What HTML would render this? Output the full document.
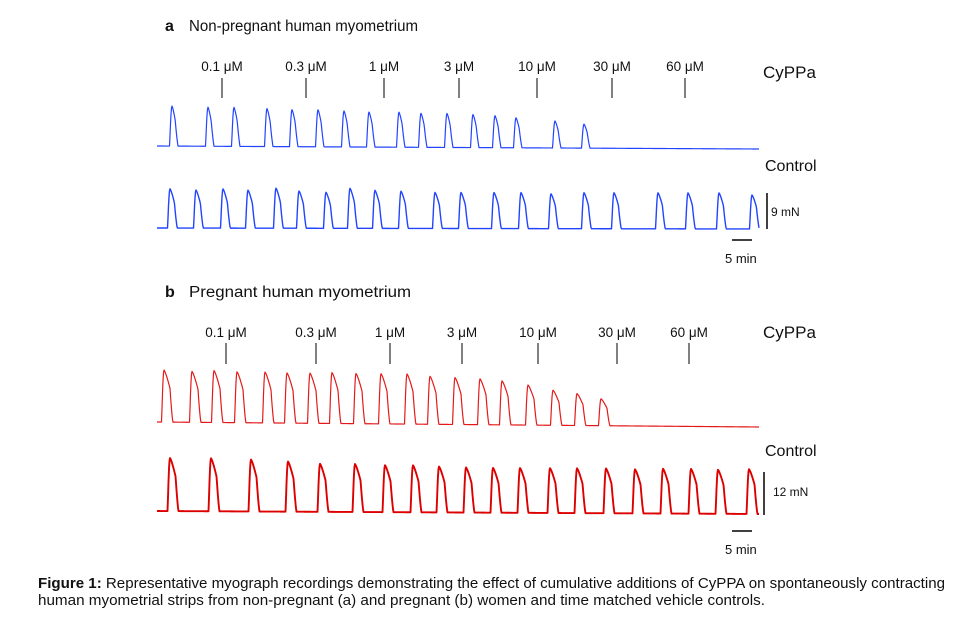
<!DOCTYPE html>
<html><head><meta charset="utf-8"><style>
body{margin:0;background:#fff;width:959px;height:614px;overflow:hidden;font-family:"Liberation Sans",Arial,sans-serif}
svg text{font-family:"Liberation Sans",Arial,sans-serif;fill:#111}
</style></head><body>
<svg id="fig" width="959" height="614" viewBox="0 0 959 614" xmlns="http://www.w3.org/2000/svg">
<g><text x="165" y="31" font-size="16" font-weight="bold">a</text><text x="189" y="31" font-size="15.5" textLength="229" lengthAdjust="spacingAndGlyphs">Non-pregnant human myometrium</text></g>
<g><text x="165" y="297" font-size="16" font-weight="bold">b</text><text x="189" y="297" font-size="15.5" textLength="222" lengthAdjust="spacingAndGlyphs">Pregnant human myometrium</text></g>
<text x="763" y="78" font-size="17">CyPPa</text>
<text x="765" y="171" font-size="16">Control</text>
<text x="763" y="338" font-size="17">CyPPa</text>
<text x="765" y="456" font-size="16">Control</text>
<g>
<line x1="767" y1="193" x2="767" y2="229" stroke="#000" stroke-width="1.5"/><text x="771" y="216" font-size="12">9 mN</text>
<line x1="732" y1="240" x2="752" y2="240" stroke="#000" stroke-width="1.5"/><text x="725" y="263" font-size="13">5 min</text></g>
<g>
<line x1="764" y1="472" x2="764" y2="515" stroke="#000" stroke-width="1.5"/><text x="773" y="496" font-size="12">12 mN</text>
<line x1="732" y1="531" x2="752" y2="531" stroke="#000" stroke-width="1.5"/><text x="725" y="554" font-size="13">5 min</text></g>
<g id="marks"></g>
<text x="38" y="588" font-size="15" textLength="907" lengthAdjust="spacingAndGlyphs"><tspan font-weight="bold">Figure 1:</tspan> Representative myograph recordings demonstrating the effect of cumulative additions of CyPPA on spontaneously contracting</text>
<text x="38" y="605" font-size="15" textLength="727" lengthAdjust="spacingAndGlyphs">human myometrial strips from non-pregnant (a) and pregnant (b) women and time matched vehicle controls.</text>
</svg>
<script>
const concLabels=["0.1 μM","0.3 μM","1 μM","3 μM","10 μM","30 μM","60 μM"];
const concTimesA=[16.25,37.25,56.75,75.5,95,113.75,132];
const concTimesB=[17.25,39.75,58.25,76.25,95.25,115,133];
const aCyTimes=[3.75,12.75,19.25,27.5,33.75,40.25,46.75,53,60.5,66,72.5,79,84.5,89.75,99.5,106.75];
const aCyAmps=[10,9.75,9.75,9.5,9.25,9.25,9,8.75,8.75,8.5,8.5,8.25,8,7.5,6.75,6];
const aCtTimes=[3.25,9.75,16.5,22.75,29.75,35.5,42.25,48.25,54.5,61,69.5,76,84.25,91,98.5,106.75,114.25,125.25,132.75,140.5,148.75];
const aCtAmps=[9.8,9.5,9.8,9.5,10,9.3,9,10,9.5,9.3,9,9,9,9,8.7,9,9,9,9,9,8.5];
const bCyTimes=[1.75,8.75,14.25,20,27,32.5,38.25,43.75,49.75,56,62.5,68.25,74.5,80.75,86.25,92.75,99,105,111];
const bCyAmps=[14.5,14.2,14.5,14.2,14.2,14,14,14.2,14,14,14,13.4,13.1,12.8,12.3,11.2,9.8,8.9,7.5];
const bCtTimes=[3.25,13.5,23.5,32.75,40.75,49.5,57,64,70.5,77.25,84,90.75,98.25,105,112.25,119.5,126.5,133.5,140.25,148];
const bCtAmps=[14.8,14.8,14.5,14,13.4,13.4,13.1,13.1,12.8,12.6,12.5,12.5,12.5,12.5,12.5,12.3,12.5,12.5,12.3,12.5];
const T0=157,PXMIN=4,TEND=150.5;
const xs=t=>T0+t*PXMIN;
const NS="http://www.w3.org/2000/svg";
const g=document.getElementById('marks');
function shape(d,w){
  if(d>-0.6&&d<=0){const u=1+d/0.6;return Math.sin(u*Math.PI/2);}
  if(d>0&&d<=w){return 1-0.35*Math.pow(d/w,1.3);}
  if(d>w&&d<w+0.7){const u=(d-w)/0.7;return 0.65*(1-u)*(1-u*0.3);}
  return 0;
}
function trace(times,amps,base0,base1,pxmN,w,color,sw,name){
  let pts=[];
  for(let t=0;t<=TEND;t+=0.125){
    let v=0;
    for(let i=0;i<times.length;i++) v=Math.max(v,amps[i]*shape(t-times[i],w));
    const base=base0+(base1-base0)*t/TEND;
    pts.push(xs(t).toFixed(2)+","+(base-v*pxmN).toFixed(2));
  }
  const p=document.createElementNS(NS,'polyline');
  p.setAttribute('points',pts.join(' '));
  p.setAttribute('fill','none');p.setAttribute('stroke',color);p.setAttribute('stroke-width',sw);
  p.setAttribute('stroke-linejoin','round');
  
  
  g.appendChild(p);
}
trace(aCyTimes,aCyAmps,146,149,4,0.8,'#2244ff',1.2,'trace-a-cyppa');
trace(aCtTimes,aCtAmps,228,229,4,1.1,'#2244ff',1.4,'trace-a-control');
trace(bCyTimes,bCyAmps,422,427,3.58,1.5,'#e41a1a',1.2,'trace-b-cyppa');
trace(bCtTimes,bCtAmps,511,514,3.58,1.4,'#dd0000',1.9,'trace-b-control');
function conc(times,labelY,y1,y2,prefix){
  for(let i=0;i<times.length;i++){
    const x=xs(times[i]);
    const l=document.createElementNS(NS,'line');
    l.setAttribute('x1',x);l.setAttribute('x2',x);l.setAttribute('y1',y1);l.setAttribute('y2',y2);
    l.setAttribute('stroke','#000');l.setAttribute('stroke-width',1);
    
    
    g.appendChild(l);
    const t=document.createElementNS(NS,'text');
    t.setAttribute('x',x);t.setAttribute('y',labelY);t.setAttribute('font-size',13.5);t.setAttribute('text-anchor','middle');
    t.textContent=concLabels[i];
    
    
    g.appendChild(t);
  }
}
conc(concTimesA,71,78,98,'conc-a');
conc(concTimesB,337,343,364,'conc-b');
</script>
</body></html>
